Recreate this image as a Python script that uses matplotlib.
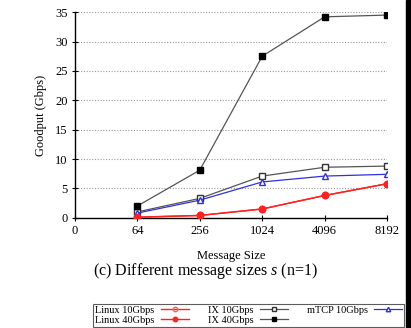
import matplotlib
matplotlib.use("Agg")
import matplotlib.pyplot as plt
from matplotlib.patches import Rectangle

plt.rcParams['font.family'] = ['Liberation Serif', 'DejaVu Serif']
plt.rcParams['mathtext.fontset'] = 'custom'
plt.rcParams['mathtext.it'] = 'Liberation Serif:italic'

x_labels = ["0", "64", "256", "1024", "4096", "8192"]
sizes = ["64", "256", "1024", "4096", "8192"]
linux10 = [0.1, 0.4, 1.5, 3.8, 5.8]
linux40 = [0.1, 0.4, 1.5, 3.8, 5.8]
ix10 = [1.0, 3.3, 7.1, 8.6, 8.8]
ix40 = [2.0, 8.1, 27.5, 34.2, 34.5]
mtcp10 = [0.8, 3.0, 6.1, 7.1, 7.4]

fig = plt.figure(figsize=(4.11, 3.28), dpi=100)
ax = fig.add_axes([0.182, 0.336, 0.760, 0.627])

pos = [x_labels.index(s) for s in sizes]

ms = 4.6
h1, = ax.plot(pos, linux10, color='#ff2020', lw=1.0, marker='o', ms=ms, mfc='none', mec='#ff6060', label='Linux 10Gbps', zorder=3)
h2, = ax.plot(pos, linux40, color='#ff2020', lw=1.0, marker='o', ms=ms, mfc='#ff2020', mec='#ff2020', label='Linux 40Gbps', zorder=4)
h3, = ax.plot(pos, ix10, color='#555555', lw=0.9, marker='s', ms=ms, mfc='white', mec='#333333', label='IX 10Gbps', zorder=3)
h4, = ax.plot(pos, ix40, color='#555555', lw=0.9, marker='s', ms=ms, mfc='black', mec='black', label='IX 40Gbps', zorder=3)
h5, = ax.plot(pos, mtcp10, color='#3030e0', lw=0.9, marker='^', ms=ms, mfc='white', mec='#3030e0', label='mTCP 10Gbps', zorder=3)

ax.set_xlim(0, 5)
ax.set_ylim(0, 35)
ax.set_xticks(range(len(x_labels)))
ax.set_xticklabels(x_labels)
ax.set_yticks([0, 5, 10, 15, 20, 25, 30, 35])
ax.yaxis.grid(True, linestyle=(0, (1, 1.5)), color='#999999', lw=0.8)
ax.set_axisbelow(True)
for s in ['top', 'right']:
    ax.spines[s].set_visible(False)
ax.spines['left'].set_linewidth(1.0)
ax.spines['bottom'].set_linewidth(1.0)
ax.tick_params(axis='both', labelsize=9, direction='inout', length=4, width=0.8, pad=3)
ax.set_ylabel('Goodput (Gbps)', fontsize=9, labelpad=6)
ax.set_xlabel('Message Size', fontsize=9, labelpad=9.5)

fig.text(0.5, 0.175, r'(c) Different message sizes $s$ (n=1)', ha='center', va='center', fontsize=11.5)

leg = fig.legend(handles=[h1, h2, h3, h4, h5], ncol=3, markerfirst=False,
                 loc='lower left', bbox_to_anchor=(0.226, 0.003, 0.757, 0.072), mode='expand',
                 fontsize=7.5, frameon=True, fancybox=False, edgecolor='#333333',
                 handlelength=2.7, handletextpad=0.6, columnspacing=1.4, markerscale=0.7,
                 borderpad=0.2, labelspacing=0.05, borderaxespad=0)
leg.get_frame().set_linewidth(0.8)

fig.patches.append(Rectangle((0.988, 0), 0.012, 1, transform=fig.transFigure, color='black', zorder=10))

fig.savefig('out.png', dpi=100)
